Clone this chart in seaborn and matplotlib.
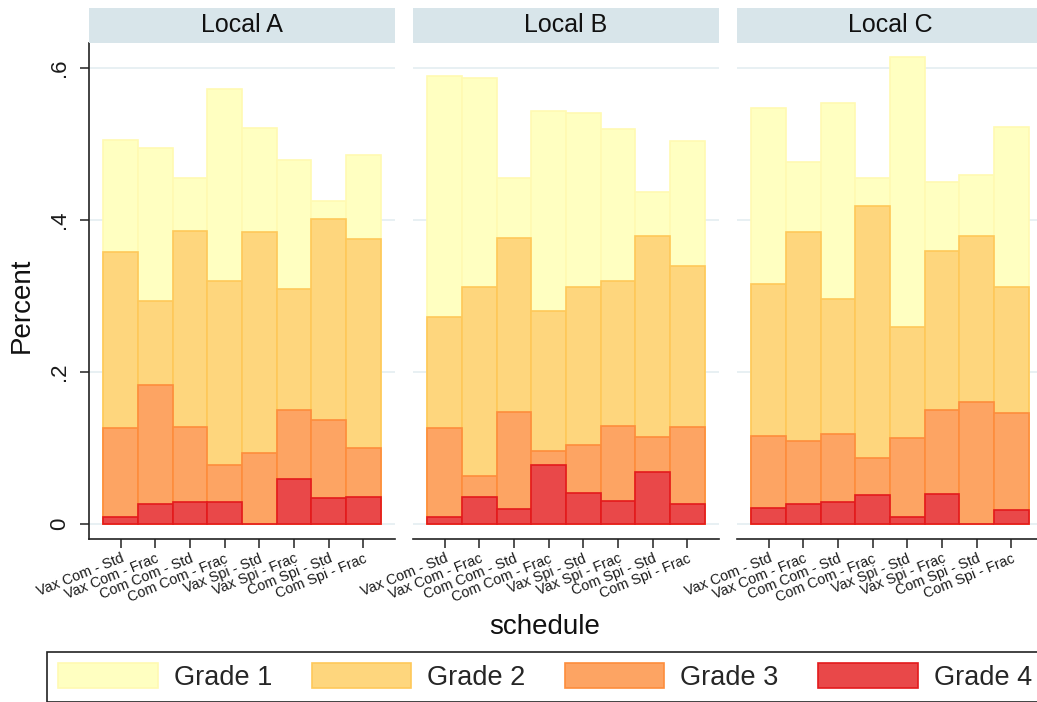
import numpy as np
import pandas as pd
import matplotlib
matplotlib.use("Agg")
import matplotlib.pyplot as plt
from matplotlib.patches import Patch
import seaborn as sns

# Vaccination schedules on the x axis
schedules = ["Vax Com - Std", "Vax Com - Frac", "Com Com - Std", "Com Com - Frac",
             "Vax Spi - Std", "Vax Spi - Frac", "Com Spi - Std", "Com Spi - Frac"]
locals_ = ["Local A", "Local B", "Local C"]
grades = ["Grade 1", "Grade 2", "Grade 3", "Grade 4"]

# Percent with reaction of at least the given grade, per schedule
local_a_g1 = [0.506, 0.495, 0.456, 0.573, 0.521, 0.479, 0.425, 0.486]
local_a_g2 = [0.358, 0.293, 0.386, 0.320, 0.385, 0.310, 0.402, 0.375]
local_a_g3 = [0.126, 0.183, 0.128, 0.078, 0.093, 0.150, 0.137, 0.100]
local_a_g4 = [0.010, 0.027, 0.029, 0.029, 0.000, 0.059, 0.034, 0.036]

local_b_g1 = [0.590, 0.587, 0.456, 0.544, 0.541, 0.520, 0.437, 0.504]
local_b_g2 = [0.273, 0.312, 0.376, 0.281, 0.312, 0.320, 0.379, 0.340]
local_b_g3 = [0.126, 0.064, 0.148, 0.096, 0.104, 0.129, 0.115, 0.128]
local_b_g4 = [0.010, 0.036, 0.020, 0.078, 0.041, 0.030, 0.068, 0.027]

local_c_g1 = [0.548, 0.477, 0.554, 0.456, 0.615, 0.450, 0.460, 0.523]
local_c_g2 = [0.316, 0.385, 0.296, 0.418, 0.260, 0.360, 0.379, 0.312]
local_c_g3 = [0.116, 0.110, 0.118, 0.087, 0.114, 0.150, 0.161, 0.146]
local_c_g4 = [0.021, 0.027, 0.029, 0.039, 0.010, 0.040, 0.000, 0.018]

yticks = [0, 0.2, 0.4, 0.6]
ytick_labels = ["0", ".2", ".4", ".6"]

series = {
    "Local A": [local_a_g1, local_a_g2, local_a_g3, local_a_g4],
    "Local B": [local_b_g1, local_b_g2, local_b_g3, local_b_g4],
    "Local C": [local_c_g1, local_c_g2, local_c_g3, local_c_g4],
}
rows = []
for loc in locals_:
    for g, vals in zip(grades, series[loc]):
        for s, v in zip(schedules, vals):
            rows.append({"local": loc, "grade": g, "schedule": s, "value": v})
df = pd.DataFrame(rows)

fills = {"Grade 1": "#ffffc1", "Grade 2": "#fed67d", "Grade 3": "#fda463", "Grade 4": "#e94849"}
edges = {"Grade 1": "#fffab2", "Grade 2": "#fec85a", "Grade 3": "#fd8d3c", "Grade 4": "#e31a1c"}

sns.set_theme(style="white")
plt.rcParams["font.family"] = ["Liberation Sans", "DejaVu Sans"]

W, H = 1037, 702
fig = plt.figure(figsize=(W / 100, H / 100), dpi=100)
fig.patch.set_facecolor("white")


def px_rect(x0, y0, x1, y1):
    return [x0 / W, 1 - y1 / H, (x1 - x0) / W, (y1 - y0) / H]


panel_left = [89, 413, 737]
panel_w = 306
top, bottom = 43, 539
strip_top = 8

for i, loc in enumerate(locals_):
    x0 = panel_left[i]
    ax = fig.add_axes(px_rect(x0, top, x0 + panel_w, bottom))
    sub = df[df["local"] == loc]
    for g in grades:
        sns.barplot(data=sub[sub["grade"] == g], x="schedule", y="value", order=schedules,
                    color=fills[g], edgecolor=edges[g], linewidth=1.2, width=1.0,
                    saturation=1, errorbar=None, ax=ax, zorder=3)
    ax.set_xlim(-0.915, 7.915)
    ax.set_ylim(-0.0195, 0.633)
    ax.set_yticks(yticks)
    ax.yaxis.grid(True, color="#e6eff2", linewidth=1.3, zorder=0)
    ax.set_axisbelow(True)
    ax.set_xlabel("")
    ax.set_ylabel("")
    for sp in ["top", "right"]:
        ax.spines[sp].set_visible(False)
    ax.spines["bottom"].set_color("#222222")
    ax.spines["bottom"].set_linewidth(1.2)
    ax.set_xticks(range(len(schedules)))
    ax.set_xticklabels(schedules, rotation=22, ha="right", va="top",
                       rotation_mode="anchor", fontsize=10.4, color="#1a1a1a")
    ax.tick_params(axis="x", bottom=True, length=6.5, width=1.1, color="#222222", pad=2.5)
    if i == 0:
        ax.spines["left"].set_color("#222222")
        ax.spines["left"].set_linewidth(1.2)
        ax.set_yticklabels(ytick_labels, rotation=90, va="center", fontsize=16, color="#1a1a1a")
        ax.tick_params(axis="y", left=True, length=6.5, width=1.1, color="#222222", pad=7)
    else:
        ax.spines["left"].set_visible(False)
        ax.tick_params(axis="y", left=False, labelleft=False)

    # facet header strip
    sax = fig.add_axes(px_rect(x0, strip_top, x0 + panel_w, top))
    sax.set_facecolor("#d8e5ea")
    sax.set_xticks([])
    sax.set_yticks([])
    for sp in sax.spines.values():
        sp.set_visible(False)
    sax.text(0.5, 0.5, loc, ha="center", va="center", fontsize=18, color="#111111",
             transform=sax.transAxes)

fig.text(22 / W, 1 - 305 / H, "Percent", rotation=90, ha="center", va="center",
         fontsize=20, color="#111111")
fig.text(545 / W, 1 - 627 / H, "schedule", ha="center", va="center",
         fontsize=20, color="#111111")

handles = [Patch(facecolor=fills[g], edgecolor=edges[g], linewidth=1.2, label=g) for g in grades]
leg = fig.legend(handles=handles, loc="upper left", bbox_to_anchor=(47 / W, 1 - 652 / H),
                 ncol=4, fontsize=19.5, frameon=True, fancybox=False, shadow=False,
                 borderaxespad=0, borderpad=0.42, handlelength=3.67, handleheight=1.04,
                 handletextpad=0.6, columnspacing=1.45)
leg.get_frame().set_edgecolor("#222222")
leg.get_frame().set_linewidth(1.2)
leg.get_frame().set_alpha(1)

fig.savefig("out.png", dpi=100)
